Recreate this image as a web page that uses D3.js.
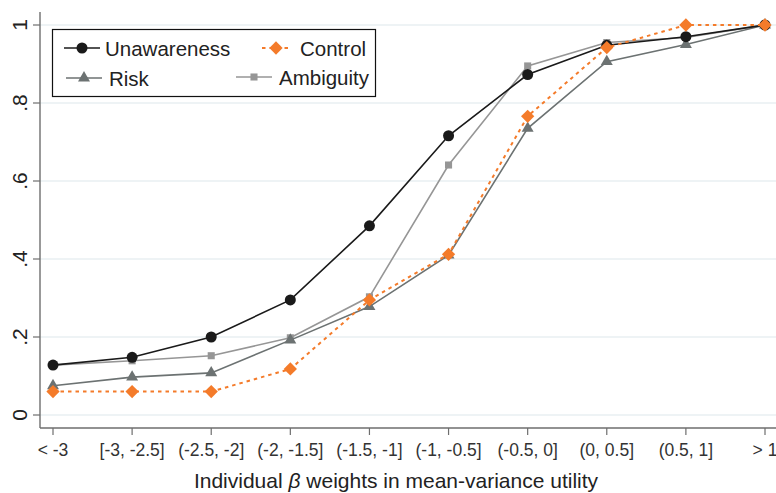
<!DOCTYPE html>
<html>
<head>
<meta charset="utf-8">
<script src="https://cdn.jsdelivr.net/npm/d3@7"></script>
<style>
  body { margin: 0; background: #fff; }
  svg { font-family: "Liberation Sans", Arial, sans-serif; }
</style>
</head>
<body>
<svg width="776" height="493"></svg>
<script>
const categories = ['< -3', '[-3, -2.5]', '(-2.5, -2]', '(-2, -1.5]', '(-1.5, -1]',
                    '(-1, -0.5]', '(-0.5, 0]', '(0, 0.5]', '(0.5, 1]', '> 1'];
const unawareness = [0.128, 0.148, 0.200, 0.295, 0.485, 0.716, 0.873, 0.948, 0.970, 1.0];
const control     = [0.060, 0.060, 0.060, 0.118, 0.295, 0.412, 0.766, 0.942, 1.0, 1.0];
const risk        = [0.075, 0.097, 0.108, 0.192, 0.278, 0.410, 0.735, 0.906, 0.950, 1.0];
const ambiguity   = [0.128, 0.139, 0.152, 0.198, 0.303, 0.641, 0.895, 0.955, 0.968, 1.0];
const yTicks = [0, 0.2, 0.4, 0.6, 0.8, 1];
const yTickLabels = ['0', '.2', '.4', '.6', '.8', '1'];

const svg = d3.select('svg');
const width = +svg.attr('width');

const x = d3.scalePoint().domain(categories).range([53, 765]);
const y = d3.scaleLinear().domain([0, 1]).range([415, 25]);

const axisLeft = 40, axisBottom = 428;

// series styles, drawn in this order
const series = [
  {name: 'Ambiguity',   values: ambiguity,   color: '#969696', width: 1.6, dash: null,   symbol: d3.symbolSquare,   size: 50,  rot: 0},
  {name: 'Risk',        values: risk,        color: '#6c7272', width: 1.6, dash: null,   symbol: d3.symbolTriangle, size: 62,  rot: 0},
  {name: 'Unawareness', values: unawareness, color: '#1a1a1a', width: 1.6, dash: null,   symbol: d3.symbolCircle,   size: 95,  rot: 0},
  {name: 'Control',     values: control,     color: '#f47b2a', width: 2,   dash: '3.5,4', symbol: d3.symbolSquare,  size: 88,  rot: 45}
];

// grid
svg.append('g').selectAll('line').data(yTicks).join('line')
  .attr('x1', axisLeft).attr('x2', width)
  .attr('y1', d => y(d)).attr('y2', d => y(d))
  .attr('stroke', '#e9eff2').attr('stroke-width', 1.6);

// y axis
svg.append('line').attr('x1', axisLeft).attr('x2', axisLeft).attr('y1', 12).attr('y2', axisBottom)
  .attr('stroke', '#6e6e6e').attr('stroke-width', 1.4);
svg.append('g').selectAll('line').data(yTicks).join('line')
  .attr('x1', axisLeft - 7).attr('x2', axisLeft)
  .attr('y1', d => y(d)).attr('y2', d => y(d))
  .attr('stroke', '#6e6e6e').attr('stroke-width', 1.2);
svg.append('g').selectAll('text').data(yTicks).join('text')
  .attr('transform', d => `translate(27,${y(d)}) rotate(-90)`)
  .attr('text-anchor', 'middle')
  .attr('font-size', 21).attr('fill', '#222')
  .text((d, i) => yTickLabels[i]);

// x axis
svg.append('line').attr('x1', axisLeft).attr('x2', width).attr('y1', axisBottom).attr('y2', axisBottom)
  .attr('stroke', '#6e6e6e').attr('stroke-width', 1.4);
svg.append('g').selectAll('line').data(categories).join('line')
  .attr('x1', d => x(d)).attr('x2', d => x(d))
  .attr('y1', axisBottom).attr('y2', axisBottom + 7)
  .attr('stroke', '#6e6e6e').attr('stroke-width', 1.2);
svg.append('g').selectAll('text').data(categories).join('text')
  .attr('x', d => x(d)).attr('y', 456)
  .attr('text-anchor', 'middle')
  .attr('font-size', 17.5).attr('fill', '#333')
  .text(d => d);

const title = svg.append('text').attr('x', 396).attr('y', 488)
  .attr('text-anchor', 'middle').attr('font-size', 21).attr('fill', '#222');
title.append('tspan').text('Individual ');
title.append('tspan').attr('font-style', 'italic').text('β');
title.append('tspan').text(' weights in mean-variance utility');

// lines and markers
const line = d3.line().x((d, i) => x(categories[i])).y(d => y(d));
series.forEach(s => {
  svg.append('path').datum(s.values)
    .attr('d', line)
    .attr('fill', 'none')
    .attr('stroke', s.color)
    .attr('stroke-width', s.width)
    .attr('stroke-dasharray', s.dash);
  svg.append('g').selectAll('path').data(s.values).join('path')
    .attr('d', d3.symbol().type(s.symbol).size(s.size))
    .attr('transform', (d, i) => `translate(${x(categories[i])},${y(d)}) rotate(${s.rot})`)
    .attr('fill', s.color);
});

// legend
svg.append('rect').attr('x', 52.5).attr('y', 29.5).attr('width', 323).attr('height', 67)
  .attr('fill', '#fff').attr('stroke', '#111').attr('stroke-width', 1.2);
const legendItems = [
  {s: series[2], lx: 64,  ly: 48, tx: 105},
  {s: series[3], lx: 262, ly: 48, tx: 300},
  {s: series[1], lx: 66,  ly: 78, tx: 109},
  {s: series[0], lx: 236, ly: 77, tx: 279}
];
legendItems.forEach(it => {
  const s = it.s;
  const len = s.name === 'Control' ? 28 : 36;
  svg.append('line').attr('x1', it.lx).attr('x2', it.lx + len).attr('y1', it.ly).attr('y2', it.ly)
    .attr('stroke', s.color).attr('stroke-width', s.width).attr('stroke-dasharray', s.dash);
  svg.append('path')
    .attr('d', d3.symbol().type(s.symbol).size(s.size))
    .attr('transform', `translate(${it.lx + len / 2},${it.ly}) rotate(${s.rot})`)
    .attr('fill', s.color);
  svg.append('text').attr('x', it.tx).attr('y', it.ly + 7.5)
    .attr('font-size', 20.5).attr('fill', '#222').text(s.name);
});
</script>
</body>
</html>
